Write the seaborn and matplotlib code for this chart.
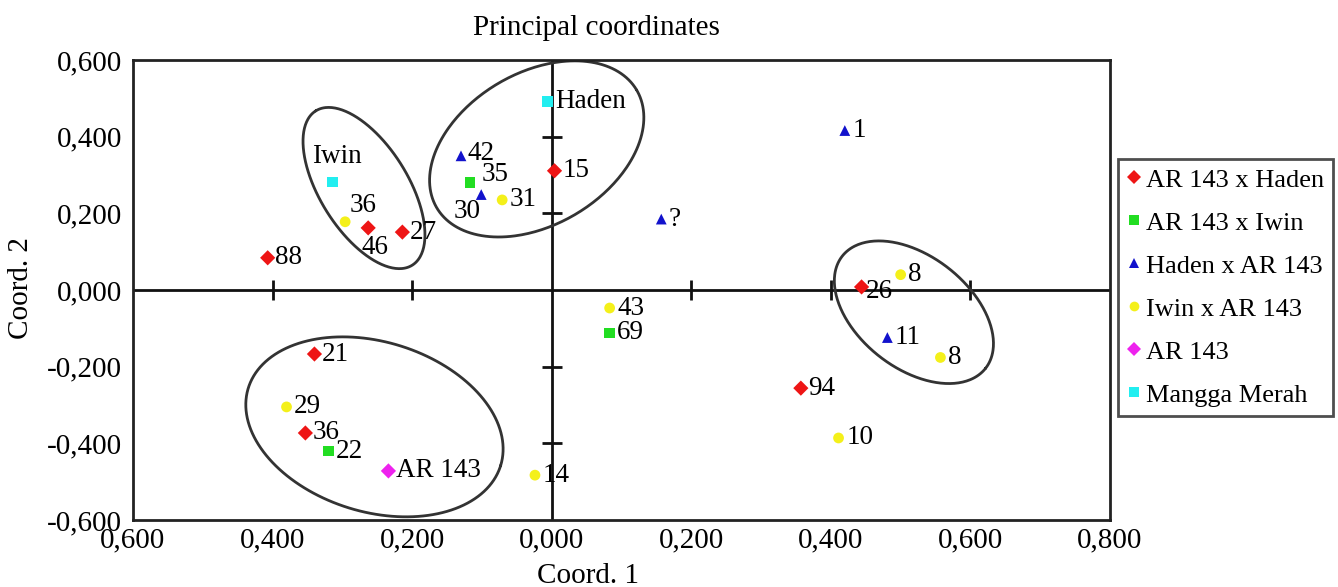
import matplotlib
matplotlib.use("Agg")
import matplotlib.pyplot as plt
from matplotlib.lines import Line2D
from matplotlib.ticker import FuncFormatter
import numpy as np
import pandas as pd
import seaborn as sns

# ---- data ----
groups = ["AR 143 x Haden", "AR 143 x Iwin", "Haden x AR 143",
          "Iwin x AR 143", "AR 143", "Mangga Merah"]

ah_x = [-0.407, -0.263, -0.214, 0.004, -0.340, -0.353, 0.357, 0.444]
ah_y = [0.084, 0.162, 0.151, 0.311, -0.167, -0.373, -0.256, 0.008]
ah_lab = ["88", "46", "27", "15", "21", "36", "94", "26"]

ai_x = [-0.117, -0.320, 0.083]
ai_y = [0.280, -0.420, -0.112]
ai_lab = ["35", "22", "69"]

ha_x = [-0.130, -0.101, 0.157, 0.420, 0.481]
ha_y = [0.350, 0.249, 0.185, 0.416, -0.124]
ha_lab = ["42", "30", "?", "1", "11"]

ia_x = [-0.296, -0.071, -0.380, -0.024, 0.083, 0.500, 0.557, 0.411]
ia_y = [0.178, 0.235, -0.305, -0.483, -0.047, 0.040, -0.176, -0.386]
ia_lab = ["36", "31", "29", "14", "43", "8", "8", "10"]

ar_x = [-0.234]
ar_y = [-0.472]
ar_lab = ["AR 143"]

mm_x = [-0.314, -0.006]
mm_y = [0.282, 0.491]
mm_lab = ["Iwin", "Haden"]

x_ticks = [-0.6, -0.4, -0.2, 0.0, 0.2, 0.4, 0.6, 0.8]
y_ticks = [-0.6, -0.4, -0.2, 0.0, 0.2, 0.4, 0.6]

frames = []
for g, xs, ys, ls in zip(groups,
                         [ah_x, ai_x, ha_x, ia_x, ar_x, mm_x],
                         [ah_y, ai_y, ha_y, ia_y, ar_y, mm_y],
                         [ah_lab, ai_lab, ha_lab, ia_lab, ar_lab, mm_lab]):
    frames.append(pd.DataFrame({"x": xs, "y": ys, "group": g, "label": ls}))
df = pd.concat(frames, ignore_index=True)

# ---- styles ----
palette = {"AR 143 x Haden": "#ee1515", "AR 143 x Iwin": "#22dd22",
           "Haden x AR 143": "#1212cc", "Iwin x AR 143": "#f4f01a",
           "AR 143": "#ee22ee", "Mangga Merah": "#22eef0"}
markers = {"AR 143 x Haden": "D", "AR 143 x Iwin": "s",
           "Haden x AR 143": "^", "Iwin x AR 143": "o",
           "AR 143": "D", "Mangga Merah": "s"}
# label offsets in points (default: right of the point)
offsets = {("Mangga Merah", "Iwin"): (-15, 18),
           ("Iwin x AR 143", "36"): (3, 12),
           ("AR 143 x Haden", "46"): (-5, -14),
           ("Haden x AR 143", "30"): (-20, -12),
           ("AR 143 x Iwin", "35"): (8, 6),
           ("Haden x AR 143", "42"): (5, 1.5),
           ("AR 143 x Haden", "26"): (3, -3)}

sns.set_theme(style="white")
plt.rcParams["font.family"] = ["Liberation Serif", "DejaVu Serif"]
plt.rcParams["text.color"] = "black"

fig = plt.figure(figsize=(13.38, 5.87), dpi=100)
ax = fig.add_axes([133 / 1338, 67 / 587, 977 / 1338, 460 / 587])

sns.scatterplot(data=df, x="x", y="y", hue="group", style="group",
                palette=palette, markers=markers, s=60, linewidth=0,
                legend=False, ax=ax, zorder=3)

for _, r in df.iterrows():
    dx, dy = offsets.get((r["group"], r["label"]), (5.5, 0))
    ax.annotate(r["label"], (r["x"], r["y"]), xytext=(dx, dy),
                textcoords="offset points", ha="left", va="center",
                fontsize=19.5, color="black", zorder=4)

ax.set_xlim(-0.6, 0.8)
ax.set_ylim(-0.6, 0.6)

# centre cross with small tick marks
ax.axhline(0, color="#111111", lw=2, zorder=1)
ax.axvline(0, color="#111111", lw=2, zorder=1)
xt_in = [t for t in x_ticks if t not in (-0.6, 0.0, 0.8)]
yt_in = [t for t in y_ticks if t not in (-0.6, 0.0, 0.6)]
ax.plot(xt_in, [0] * len(xt_in), ls="none", marker="|", ms=14, mew=2,
        color="#111111", zorder=1)
ax.plot([0] * len(yt_in), yt_in, ls="none", marker="_", ms=14, mew=2,
        color="#111111", zorder=1)

# cluster ellipses (centre in data, semi-axes in px, angle deg)
sx = 977 / 1.4
sy = 460 / 1.2
ellipses = [(-0.269, 0.266, 91, 44, 122),
            (-0.0215, 0.368, 116, 76, 30.5),
            (-0.254, -0.357, 132, 85, -17),
            (0.519, -0.058, 91, 56, -38)]
t = np.linspace(0, 2 * np.pi, 300)
for cx, cy, a, b, ang in ellipses:
    th = np.radians(ang)
    px = a * np.cos(t) * np.cos(th) - b * np.sin(t) * np.sin(th)
    py = a * np.cos(t) * np.sin(th) + b * np.sin(t) * np.cos(th)
    ax.plot(cx + px / sx, cy + py / sy, color="#333333", lw=2, zorder=2)

ax.set_xticks(x_ticks)
ax.set_yticks(y_ticks)
ax.xaxis.set_major_formatter(FuncFormatter(lambda v, p: f"{abs(v):.3f}".replace(".", ",")))
ax.yaxis.set_major_formatter(FuncFormatter(
    lambda v, p: ("-" if v < -1e-9 else "") + f"{abs(v):.3f}".replace(".", ",")))
ax.tick_params(axis="both", length=0, labelsize=21, colors="black")
ax.tick_params(axis="y", pad=8)
ax.tick_params(axis="x", pad=5)
ax.set_xlabel("")
ax.set_ylabel("")
for sp in ax.spines.values():
    sp.set_visible(True)
    sp.set_linewidth(2)
    sp.set_color("#222222")

fig.text(596 / 1338, 1 - 28 / 587, "Principal coordinates", ha="center",
         va="center", fontsize=21)
fig.text(588 / 1338, 1 - 576 / 587, "Coord. 1", ha="center", va="center",
         fontsize=21)
fig.text(21 / 1338, 1 - 288 / 587, "Coord. 2", ha="center", va="center",
         rotation=90, fontsize=21)

handles = [Line2D([], [], ls="none", marker=markers[g], color=palette[g],
                  markersize=7, markeredgewidth=0) for g in groups]
leg = fig.legend(handles, groups, loc="upper left",
                 bbox_to_anchor=(1118 / 1338, 1 - 159 / 587),
                 frameon=True, fancybox=False, fontsize=19,
                 handlelength=0.5, handletextpad=0.2, labelspacing=0.74,
                 borderpad=0.35, borderaxespad=0)
leg.get_frame().set_edgecolor("#222222")
leg.get_frame().set_linewidth(2)

fig.savefig("out.png", dpi=100, facecolor="white")
